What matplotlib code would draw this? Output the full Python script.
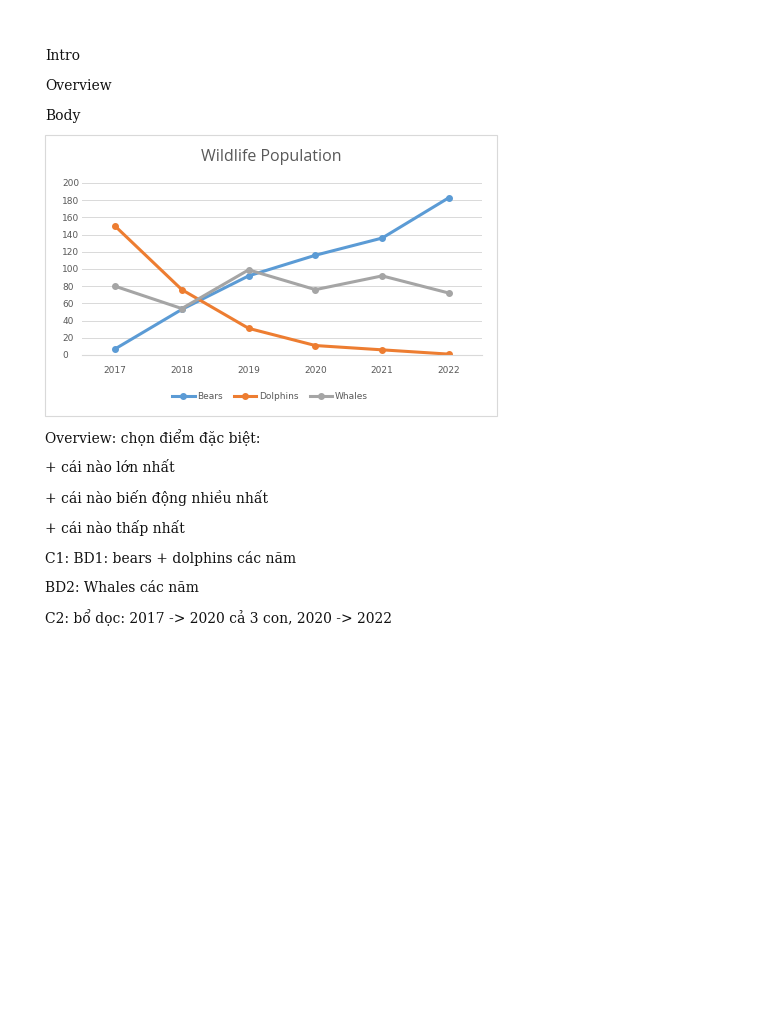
import matplotlib.pyplot as plt
from matplotlib.patches import Rectangle

years = ["2017", "2018", "2019", "2020", "2021", "2022"]
bears = [7, 53, 92, 116, 136, 183]
dolphins = [150, 76, 31, 11, 6, 1]
whales = [80, 54, 99, 76, 92, 72]

lines_before = ["Intro", "Overview", "Body"]
lines_after = [
    "Overview: chọn điểm đặc biệt:",
    "+ cái nào lớn nhất",
    "+ cái nào biến động nhiều nhất",
    "+ cái nào thấp nhất",
    "C1: BD1: bears + dolphins các năm",
    "BD2: Whales các năm",
    "C2: bổ dọc: 2017 -> 2020 cả 3 con, 2020 -> 2022",
]

W, H = 768, 1024
fig = plt.figure(figsize=(7.68, 10.24), dpi=100)
fig.patch.set_facecolor("white")

txt = dict(family=["DejaVu Serif"], fontsize=10, color="#111111", va="center", ha="left")
for i, s in enumerate(lines_before):
    fig.text(45 / W, 1 - (56 + 30 * i) / H, s, **txt)
for i, s in enumerate(lines_after):
    fig.text(45 / W, 1 - (438 + 30 * i) / H, s, **txt)

# chart frame
fig.patches.append(Rectangle((45 / W, 1 - 416 / H), 452 / W, 281 / H,
                             transform=fig.transFigure, fill=False,
                             edgecolor="#d9d9d9", linewidth=0.8))
fig.text(271 / W, 1 - 157 / H, "Wildlife Population", ha="center", va="center",
         fontsize=11.5, color="#595959", family=["Open Sans", "DejaVu Sans"])

ax = fig.add_axes([81.6 / W, 1 - 355 / H, 400.8 / W, 172 / H])
x = range(len(years))
ax.plot(x, bears, color="#5b9bd5", lw=2.2, marker="o", ms=4, label="Bears")
ax.plot(x, dolphins, color="#ed7d31", lw=2.2, marker="o", ms=4, label="Dolphins")
ax.plot(x, whales, color="#a5a5a5", lw=2.2, marker="o", ms=4, label="Whales")
ax.set_xlim(-0.5, 5.5)
ax.set_ylim(0, 200)
ax.set_yticks(range(0, 201, 20))
ax.set_xticks(list(x))
ax.set_xticklabels(years)
ax.grid(axis="y", color="#d9d9d9", lw=0.7)
ax.set_axisbelow(True)
for sp in ax.spines.values():
    sp.set_visible(False)
ax.spines["bottom"].set_visible(True)
ax.spines["bottom"].set_color("#d9d9d9")
ax.tick_params(length=0, labelsize=6.5, colors="#595959")
ax.tick_params(axis="x", pad=8)
ax.tick_params(axis="y", pad=14)
for t in ax.get_yticklabels():
    t.set_ha("left")
leg = ax.legend(loc="center", bbox_to_anchor=(0.47, -0.24), ncol=3, frameon=False,
                fontsize=6.5, handlelength=2.5, columnspacing=1.2, handletextpad=0.3)
for t in leg.get_texts():
    t.set_color("#595959")

fig.savefig("out.png", dpi=100, facecolor="white")
